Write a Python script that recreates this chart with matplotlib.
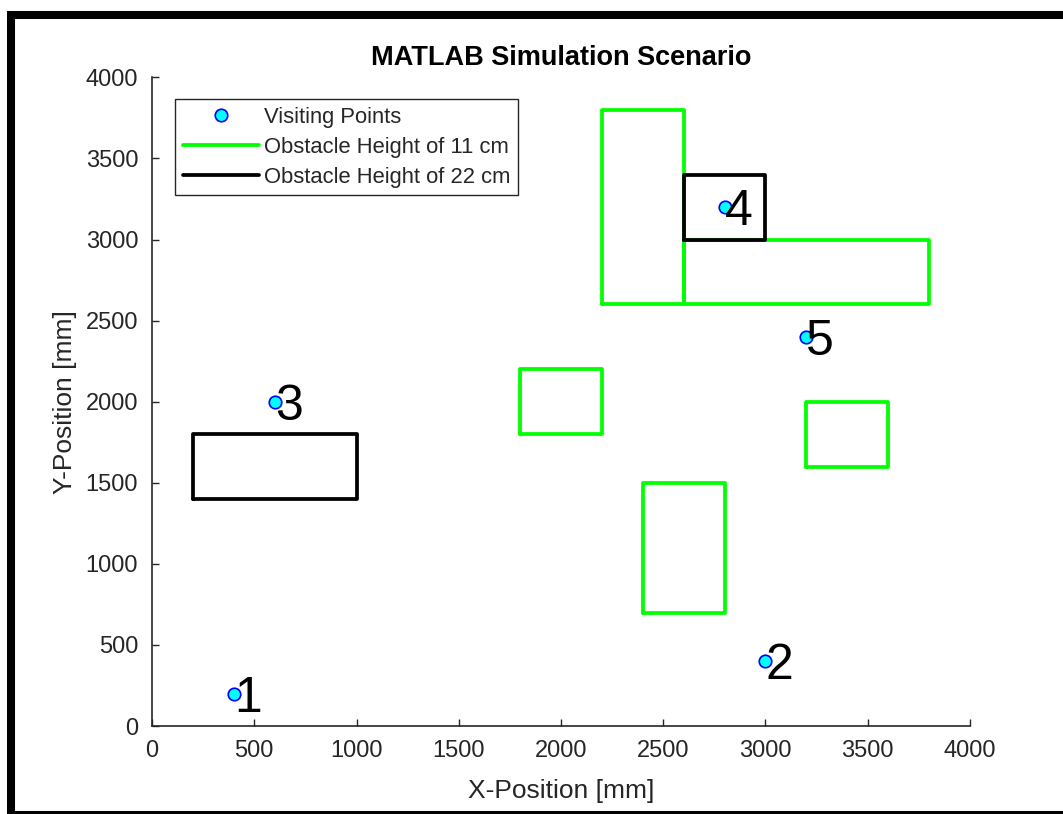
import matplotlib
matplotlib.use('Agg')
import matplotlib.pyplot as plt
from matplotlib.patches import Rectangle

plt.rcParams['font.family'] = ['Liberation Sans', 'DejaVu Sans']

# visiting points
pt_x = [400, 3000, 600, 2800, 3200]
pt_y = [200, 400, 2000, 3200, 2400]
pt_labels = ['1', '2', '3', '4', '5']

# obstacles as (x0, y0, x1, y1)
low_obstacles = [(2200, 2600, 2600, 3800),
                 (2600, 2600, 3800, 3000),
                 (1800, 1800, 2200, 2200),
                 (3200, 1600, 3600, 2000),
                 (2400, 700, 2800, 1500)]
high_obstacles = [(200, 1400, 1000, 1800),
                  (2600, 3000, 3000, 3400)]

ticks = [0, 500, 1000, 1500, 2000, 2500, 3000, 3500, 4000]

fig = plt.figure(figsize=(10.63, 8.14), dpi=100)
ax = fig.add_axes([0.143, 0.108, 0.7695, 0.797])

gray = '#262626'


def box(ob, color, label):
    x0, y0, x1, y1 = ob
    ax.plot([x0, x1, x1, x0, x0], [y0, y0, y1, y1, y0], color=color, lw=2.7,
            solid_joinstyle='round', solid_capstyle='round', label=label)


ax.plot(pt_x, pt_y, 'o', ms=9, mfc='#00ffff', mec='#0000ff', mew=1.2,
        label='Visiting Points', zorder=5)
for i, ob in enumerate(low_obstacles):
    box(ob, '#00ff00', 'Obstacle Height of 11 cm' if i == 0 else None)
for i, ob in enumerate(high_obstacles):
    box(ob, 'black', 'Obstacle Height of 22 cm' if i == 0 else None)

for x, y, s in zip(pt_x, pt_y, pt_labels):
    ax.text(x, y, s, fontsize=36, ha='left', va='center_baseline', zorder=6)

ax.set_xlim(0, 4000)
ax.set_ylim(0, 4000)
ax.set_xticks(ticks)
ax.set_yticks(ticks)
ax.tick_params(direction='in', length=5, width=1, colors=gray, labelsize=17, pad=10)
for side in ['top', 'right']:
    ax.spines[side].set_visible(False)
for side in ['left', 'bottom']:
    ax.spines[side].set_color(gray)
    ax.spines[side].set_linewidth(1.2)

ax.set_xlabel('X-Position [mm]', fontsize=19, color=gray, labelpad=12)
ax.set_ylabel('Y-Position [mm]', fontsize=19, color=gray, labelpad=6)
ax.set_title('MATLAB Simulation Scenario', fontsize=19.5, fontweight='bold', pad=9)

leg = ax.legend(loc='upper left', bbox_to_anchor=(0.028, 0.966), fontsize=15.8,
                fancybox=False, edgecolor=gray, framealpha=1, handlelength=3.5,
                handletextpad=0.2, borderpad=0.35, labelspacing=0.4, borderaxespad=0)
leg.get_frame().set_linewidth(1.0)
for t in leg.get_texts():
    t.set_color(gray)

# black frame around the picture
fig.patches.append(Rectangle((11 / 1063, -1 / 814), 1.1, (814 - 15 + 1) / 814,
                             transform=fig.transFigure, fill=False, lw=5.8,
                             edgecolor='black', figure=fig))

fig.savefig('out.png', dpi=100)
